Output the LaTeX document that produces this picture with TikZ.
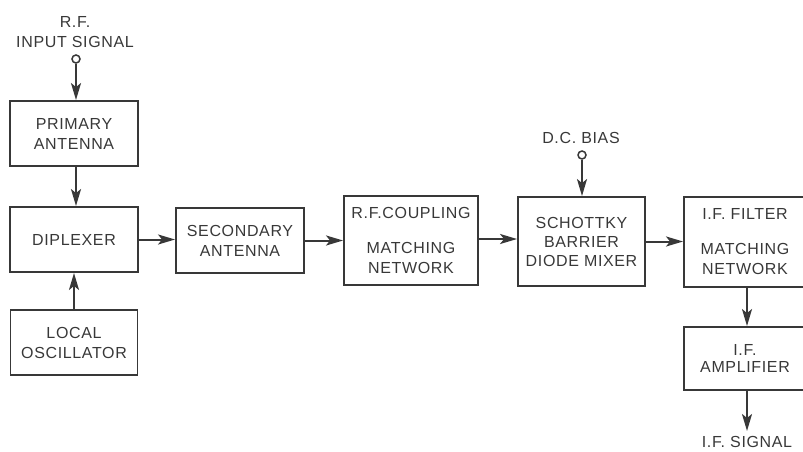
\documentclass[tikz,border=0pt]{standalone}
\usepackage{fontspec}
\setmainfont[LetterSpace=4]{Liberation Sans}
\usetikzlibrary{arrows.meta}
\definecolor{ink}{HTML}{383838}
\tikzset{
  box/.style={draw=ink, line width=1.9pt, rectangle, inner sep=0pt, align=center,
    text=ink, font=\fontsize{16}{20}\selectfont},
  lbl/.style={text=ink, align=center, inner sep=0pt, font=\fontsize{16}{20}\selectfont},
  arr/.style={draw=ink, line width=2pt, -{Stealth[length=17pt,width=10pt,inset=4pt]}},
  term/.style={circle, draw=ink, line width=1.5pt, minimum size=8pt, inner sep=0pt, fill=white}
}
\begin{document}
\begin{tikzpicture}[x=1pt,y=-1pt]
\useasboundingbox (0,0) rectangle (803,452);
% labels
\node[lbl] (inlbl) at (75,32) {R.F.\\INPUT SIGNAL};
\node[term] (in) at (76,59) {};
\node[lbl] (dclbl) at (581,138) {D.C. BIAS};
\node[term] (dc) at (582,155) {};
% boxes
\node[box, minimum width=128pt, minimum height=65pt] (prim) at (74,133.5) {PRIMARY\\ANTENNA};
\node[box, minimum width=128pt, minimum height=65pt] (dipl) at (74,239.5) {DIPLEXER};
\node[box, minimum width=127pt, minimum height=65pt] (lo) at (74,342.5) {LOCAL\\OSCILLATOR};
\node[box, minimum width=128pt, minimum height=65pt] (sec) at (240,240.5) {SECONDARY\\ANTENNA};
\node[box, minimum width=134pt, minimum height=89pt] (rfc) at (411,240.5) {R.F.COUPLING\\[15pt]MATCHING\\NETWORK};
\node[box, minimum width=127pt, minimum height=89pt] (sch) at (581.5,241.5) {SCHOTTKY\\[-1pt]BARRIER\\[-1pt]DIODE MIXER};
\node[box, minimum width=122pt, minimum height=90pt] (iff) at (745,242) {I.F. FILTER\\[15pt]MATCHING\\NETWORK};
\node[box, minimum width=122pt, minimum height=63pt] (ifa) at (745,358.5) {I.F.\\[-3pt]AMPLIFIER};
\node[lbl] (outlbl) at (747,442) {I.F. SIGNAL};
\coordinate (out) at (747,431);
% connectors
\draw[arr] (in.south) -- (in.south |- prim.north);
\draw[arr] ([xshift=2pt]prim.south) -- ([xshift=2pt]dipl.north);
\draw[arr] (lo.north) -- (lo.north |- dipl.south);
\draw[arr] (dipl.east) -- (dipl.east -| sec.west);
\draw[arr] (sec.east) -- (sec.east -| rfc.west);
\draw[arr] ([yshift=1.5pt]rfc.east) -- ([yshift=1.5pt]rfc.east -| sch.west);
\draw[arr] (sch.east) -- (sch.east -| iff.west);
\draw[arr] (dc.south) -- (dc.south |- sch.north);
\draw[arr] (out |- iff.south) -- (out |- ifa.north);
\draw[arr] (out |- ifa.south) -- (out);
\end{tikzpicture}
\end{document}
